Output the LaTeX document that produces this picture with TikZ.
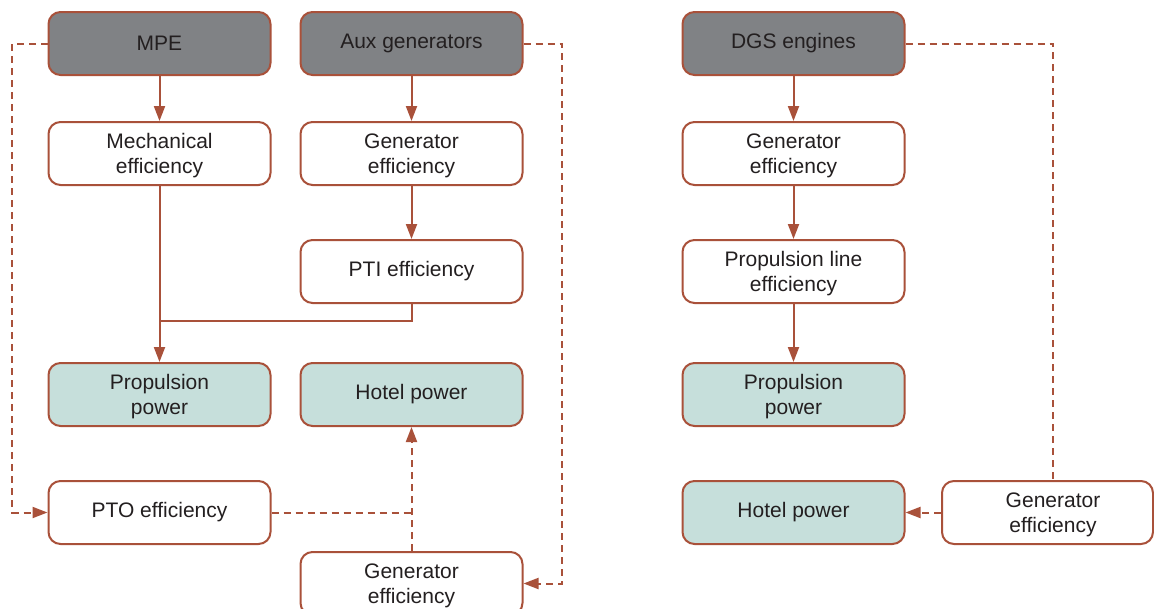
\documentclass[tikz,border=0pt]{standalone}
\usepackage{fontspec}
\setmainfont{Liberation Sans}
\usetikzlibrary{arrows.meta}
\definecolor{ln}{HTML}{A9513A}
\definecolor{dk}{HTML}{808285}
\definecolor{tl}{HTML}{C6DFDB}
\definecolor{tx}{HTML}{231F20}
\begin{document}
\begin{tikzpicture}[x=1pt,y=-1pt,
 box/.style={draw=ln,line width=2pt,rounded corners=12pt,minimum width=222pt,minimum height=63pt,inner sep=0pt,align=center,font=\fontsize{21}{25}\selectfont,text=tx,fill=white},
 two/.style={text depth=0pt},
 src/.style={box,fill=dk},
 res/.style={box,fill=tl},
 con/.style={draw=ln,line width=2pt,-{Triangle[length=15pt,width=11pt]}},
 plain/.style={draw=ln,line width=2pt},
 dsh/.style={draw=ln,line width=2pt,dash pattern=on 7pt off 5pt},
 dar/.style={dsh,-{Triangle[length=15pt,width=11pt]}}]
\path[use as bounding box, clip] (0,0) rectangle (1154,608);
% left part
\node[src] (mpe) at (159.5,43.5) {MPE};
\node[src] (aux) at (411.5,43.5) {Aux generators};
\node[box,two] (mech) at (159.5,153.5) {Mechanical\\efficiency};
\node[box,two] (gen1) at (411.5,153.5) {Generator\\efficiency};
\node[box] (pti) at (411.5,271.5) {PTI efficiency};
\node[res,two] (prop) at (159.5,394.5) {Propulsion\\power};
\node[res] (hot) at (411.5,394.5) {Hotel power};
\node[box] (pto) at (159.5,512.5) {PTO efficiency};
\node[box,two] (gen2) at (411.5,583.5) {Generator\\efficiency};
% right part
\node[src] (dgs) at (793.5,43.5) {DGS engines};
\node[box,two] (gen3) at (793.5,153.5) {Generator\\efficiency};
\node[box,two] (ple) at (793.5,271.5) {Propulsion line\\efficiency};
\node[res,two] (prop2) at (793.5,394.5) {Propulsion\\power};
\node[res] (hot2) at (793.5,512.5) {Hotel power};
\node[box,two,minimum width=211pt] (gen4) at (1047.5,512.5) {\hspace*{11pt}Generator\\\hspace*{11pt}efficiency};
% coordinates
\coordinate (j) at (159.5,321);
\coordinate (l) at (12,43.5);
\coordinate (r) at (562,43.5);
\coordinate (rr) at (1053,43.5);
% solid connectors
\draw[con] (mpe) -- (mech);
\draw[con] (aux) -- (gen1);
\draw[con] (gen1) -- (pti);
\draw[con] (mech) -- (prop);
\draw[plain] (pti.south) |- (j);
\draw[con] (dgs) -- (gen3);
\draw[con] (gen3) -- (ple);
\draw[con] (ple) -- (prop2);
% dashed connectors
\draw[dar] (mpe.west) -- (l) |- (pto.west);
\draw[dar] (aux.east) -- (r) |- (gen2.east);
\draw[dsh] (pto.east) -- (pto.east -| gen2.north);
\draw[dar] (gen2.north) -- (hot.south);
\draw[dsh] (dgs.east) -- (rr) -- (rr |- gen4.north);
\draw[dar] (gen4.west) -- (hot2.east);
\end{tikzpicture}
\end{document}
